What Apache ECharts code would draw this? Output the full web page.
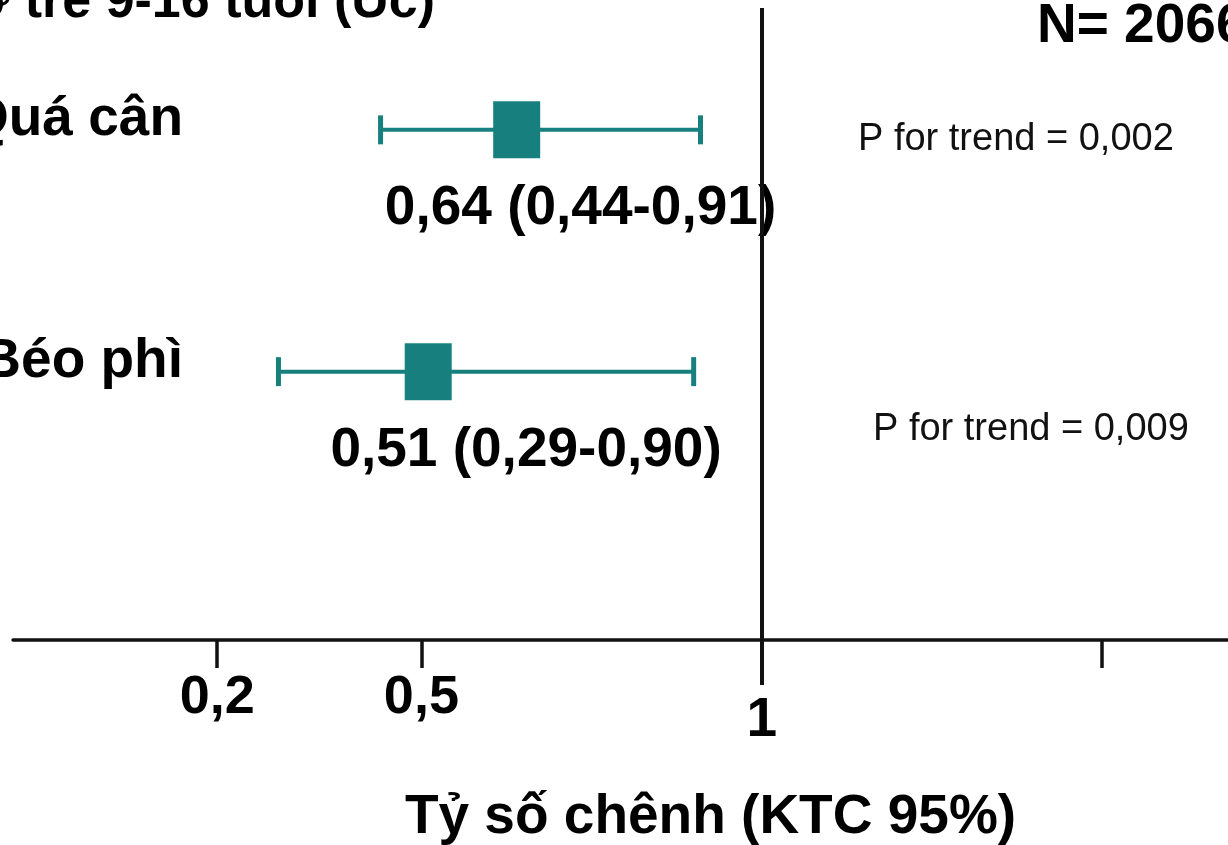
<!DOCTYPE html>
<html><head><meta charset="utf-8">
<script src="https://cdn.jsdelivr.net/npm/echarts@6/dist/echarts.min.js"></script>
<style>html,body{margin:0;padding:0;background:#fff}#c{width:1228px;height:845px}</style>
</head><body><div id="c"></div>
<script>
const categories = ['Quá cân', 'Béo phì'];
const rowPos = [2, 1];
const oddsRatio = [0.64, 0.51];
const ciLower = [0.44, 0.29];
const ciUpper = [0.91, 0.90];
const valueLabels = ['0,64 (0,44-0,91)', '0,51 (0,29-0,90)'];
const pTrend = ['P for trend = 0,002', 'P for trend = 0,009'];
const tickValues = [0.2, 0.5, 1.5];
const labelValues = [0.2, 0.5];
const refValue = 1;
const titleText = 'ở trẻ 9-16 tuổi (Úc)';
const sampleText = 'N= 2066';
const axisName = 'Tỷ số chênh (KTC 95%)';

const FONT = '"Liberation Sans", Arial, Helvetica, sans-serif';
const TEAL = '#17807e';
const fmt = v => String(v).replace('.', ',');

const data = categories.map((c, i) => [oddsRatio[i], ciLower[i], ciUpper[i], rowPos[i]]);

const chart = echarts.init(document.getElementById('c'), null, {renderer: 'canvas'});
const xCommon = {type: 'value', min: -0.1, max: 1.685, splitLine: {show: false}, position: 'bottom'};
chart.setOption({
  animation: false,
  backgroundColor: '#fff',
  grid: {left: 13, right: 0, top: 8, bottom: 205, containLabel: false, outerBoundsMode: 'none'},
  xAxis: [
    Object.assign({}, xCommon, {
      axisLine: {show: true, onZero: false, lineStyle: {color: '#111', width: 3.5}},
      axisTick: {show: true, customValues: tickValues, length: 28, lineStyle: {color: '#111', width: 3.5}},
      axisLabel: {show: true, customValues: labelValues, formatter: fmt, margin: 31,
        fontFamily: FONT, fontWeight: 'bold', fontSize: 54, color: '#000'},
      name: axisName, nameLocation: 'middle', nameGap: 150,
      nameTextStyle: {fontFamily: FONT, fontWeight: 'bold', fontSize: 55, color: '#000', padding: [0, 0, 0, 180]}
    }),
    Object.assign({}, xCommon, {
      axisLine: {show: false, onZero: false},
      axisTick: {show: true, customValues: [refValue], length: 45, lineStyle: {color: '#111', width: 4}},
      axisLabel: {show: true, customValues: [refValue], formatter: fmt, margin: 53,
        fontFamily: FONT, fontWeight: 'bold', fontSize: 55, color: '#000'}
    })
  ],
  yAxis: {
    type: 'value', min: -0.11, max: 2.504, offset: -170,
    axisLine: {show: false, onZero: false},
    axisTick: {show: false},
    splitLine: {show: false},
    axisLabel: {show: true, customValues: rowPos, margin: 0,
      formatter: v => categories[rowPos.indexOf(Math.round(v))] || '',
      verticalAlign: 'bottom', lineHeight: 20,
      fontFamily: FONT, fontWeight: 'bold', fontSize: 55, color: '#000'}
  },
  series: [{
    type: 'custom',
    xAxisIndex: 0,
    clip: false,
    data: data,
    renderItem: function (params, api) {
      const est = api.value(0), lo = api.value(1), hi = api.value(2), row = api.value(3);
      const pE = api.coord([est, row]);
      const pL = api.coord([lo, row]);
      const pH = api.coord([hi, row]);
      const capH = 29;
      return {
        type: 'group',
        children: [
          {type: 'line', shape: {x1: pL[0], y1: pL[1], x2: pH[0], y2: pH[1]}, style: {stroke: TEAL, lineWidth: 4}},
          {type: 'line', shape: {x1: pL[0], y1: pL[1] - capH / 2, x2: pL[0], y2: pL[1] + capH / 2}, style: {stroke: TEAL, lineWidth: 5}},
          {type: 'line', shape: {x1: pH[0], y1: pH[1] - capH / 2, x2: pH[0], y2: pH[1] + capH / 2}, style: {stroke: TEAL, lineWidth: 5}},
          {type: 'rect', shape: {x: pE[0] - 23.5, y: pE[1] - 28.5, width: 47, height: 57}, style: {fill: TEAL}},
          {type: 'text', x: (pL[0] + pH[0]) / 2 + 40, y: pE[1] + 79,
            style: {text: valueLabels[params.dataIndex], fill: '#000', align: 'center', verticalAlign: 'middle',
              fontFamily: FONT, fontWeight: 'bold', fontSize: 55}}
        ]
      };
    },
    markLine: {
      silent: true, symbol: ['none', 'none'], label: {show: false},
      lineStyle: {color: '#111', width: 4, type: 'solid'},
      data: [{xAxis: refValue}]
    }
  }],
  graphic: [
    {type: 'text', x: 435, y: 3, style: {text: titleText, align: 'right', verticalAlign: 'middle',
      fontFamily: FONT, fontWeight: 'bold', fontSize: 52, fill: '#000'}},
    {type: 'text', x: 1037, y: 27, style: {text: sampleText, align: 'left', verticalAlign: 'middle',
      fontFamily: FONT, fontWeight: 'bold', fontSize: 55, fill: '#000'}},
    {type: 'text', x: 858, y: 140, style: {text: pTrend[0], align: 'left', verticalAlign: 'middle',
      fontFamily: FONT, fontSize: 38, fill: '#111'}},
    {type: 'text', x: 873, y: 430, style: {text: pTrend[1], align: 'left', verticalAlign: 'middle',
      fontFamily: FONT, fontSize: 38, fill: '#111'}}
  ]
});
</script>
</body></html>
